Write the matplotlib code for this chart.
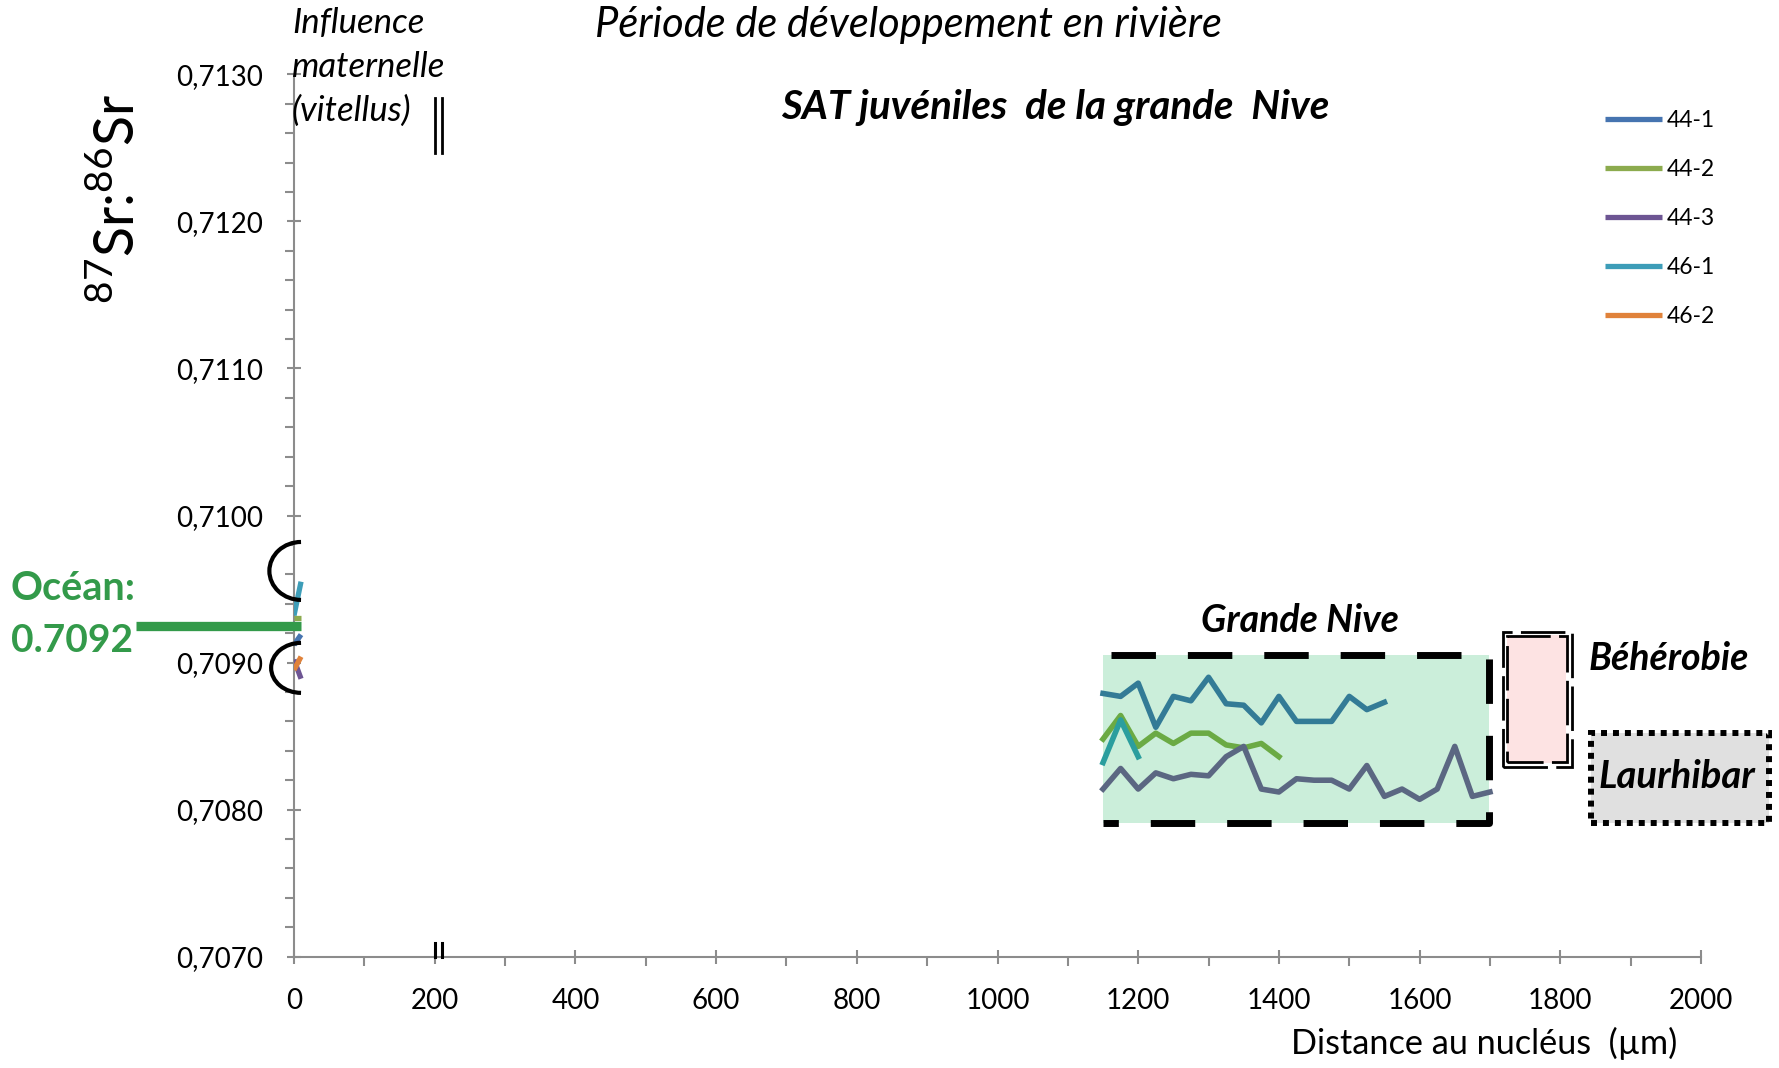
import matplotlib
matplotlib.use('Agg')
import matplotlib.pyplot as plt
from matplotlib.patches import Rectangle, Arc
from matplotlib.ticker import MultipleLocator, FuncFormatter

W, H, DPI = 1779, 1068, 100
plt.rcParams['font.family'] = ['Lato', 'DejaVu Sans']
plt.rcParams['mathtext.fontset'] = 'custom'
plt.rcParams['mathtext.rm'] = 'Lato'

# ---------------- data ----------------
series_names = ['44-1', '44-2', '44-3', '46-1', '46-2']
series_colors = ['#4674B0', '#8CAB4E', '#6D5593', '#3D9DB8', '#E0823A']

# visible start of every series (near the nucleus)
start_x = [0, 10]
start_44_1 = [0.70912, 0.70919]
start_44_2 = [0.70930, 0.70930]
start_44_3 = [0.70902, 0.70889]
start_46_1 = [0.70932, 0.70955]
start_46_2 = [0.70895, 0.70904]

# visible portions in the "Grande Nive" box
box_x_44_1 = [1150, 1175, 1200, 1225, 1250, 1275, 1300, 1325, 1350, 1375,
              1400, 1425, 1450, 1475, 1500, 1525, 1550]
box_44_1 = [0.70879, 0.70877, 0.70886, 0.70856, 0.70877, 0.70874, 0.70890,
            0.70872, 0.70871, 0.70859, 0.70877, 0.70860, 0.70860, 0.70860,
            0.70877, 0.70868, 0.70873]
box_x_44_2 = [1150, 1175, 1200, 1225, 1250, 1275, 1300, 1325, 1350, 1375, 1400]
box_44_2 = [0.70848, 0.70864, 0.70843, 0.70852, 0.70845, 0.70852, 0.70852,
            0.70844, 0.70842, 0.70845, 0.70836]
box_x_44_3 = [1150, 1175, 1200, 1225, 1250, 1275, 1300, 1325, 1350, 1375,
              1400, 1425, 1450, 1475, 1500, 1525, 1550, 1575, 1600, 1625,
              1650, 1675, 1700]
box_44_3 = [0.70814, 0.70828, 0.70814, 0.70825, 0.70821, 0.70824, 0.70823,
            0.70836, 0.70843, 0.70814, 0.70812, 0.70821, 0.70820, 0.70820,
            0.70814, 0.70830, 0.70809, 0.70814, 0.70807, 0.70814, 0.70843,
            0.70809, 0.70812]
box_x_46_1 = [1150, 1175, 1200]
box_46_1 = [0.70832, 0.70861, 0.70836]

ocean_value = 0.70925
x_ticks_max = 2000

# ---------------- figure ----------------
fig = plt.figure(figsize=(W / DPI, H / DPI), dpi=DPI)
x0p, x1p, y0p, y1p = 294, 1701, 74.3, 956.7
ax = fig.add_axes([x0p / W, 1 - y1p / H, (x1p - x0p) / W, (y1p - y0p) / H])
ax.set_xlim(0, x_ticks_max)
ax.set_ylim(0.7070, 0.7130)

for s in ['top', 'right']:
    ax.spines[s].set_visible(False)
for s in ['left', 'bottom']:
    ax.spines[s].set_color('#8C8C8C')
    ax.spines[s].set_linewidth(1.5)

ax.xaxis.set_major_locator(MultipleLocator(200))
ax.xaxis.set_minor_locator(MultipleLocator(100))
ax.yaxis.set_major_locator(MultipleLocator(0.001))
ax.yaxis.set_minor_locator(MultipleLocator(0.0002))
ax.yaxis.set_major_formatter(FuncFormatter(lambda v, p: f"{v:.4f}".replace('.', ',')))
ax.tick_params(which='major', direction='inout', length=10.5, width=1.5,
               color='#8C8C8C', labelsize=20, pad=17)
ax.tick_params(which='minor', direction='out', length=6.5, width=1.5,
               color='#8C8C8C')

# Grande Nive box
ax.add_patch(Rectangle((1150, 0.70791), 548, 0.70905 - 0.70791,
                       facecolor='#CBEEDA', edgecolor='none', zorder=1))
dash = (0, (6.4, 4.6))
ax.plot([1162, 1698, 1698, 1150], [0.70905, 0.70905, 0.70791, 0.70791],
        color='black', lw=5, linestyle=dash, zorder=5, clip_on=False)

# Béhérobie box
ax.add_patch(Rectangle((1724, 0.708318), 84, 0.709188 - 0.708318,
                       facecolor='#FDE3E3', edgecolor='none', zorder=1, clip_on=False))
ax.add_patch(Rectangle((1718, 0.708293), 98, 0.709211 - 0.708293, fill=False,
                       edgecolor='black', lw=2.0, linestyle=(0, (16, 3)),
                       zorder=5, clip_on=False))
ax.add_patch(Rectangle((1724, 0.708322), 86, 0.709182 - 0.708322, fill=False,
                       edgecolor='black', lw=2.0, linestyle=(3, (16, 3)),
                       zorder=5, clip_on=False))

# Laurhibar box
ax.add_patch(Rectangle((1843, 0.70791), 254, 0.708522 - 0.70791,
                       facecolor='#E0E0E0', edgecolor='black', lw=4.3,
                       linestyle=(0, (1, 1)), zorder=5, clip_on=False))

# series
box_colors = ['#337B96', '#6BAA44', '#5B6782', '#2B9E9E']
ax.plot(box_x_44_1, box_44_1, color=box_colors[0], lw=4.0, zorder=3)
ax.plot(box_x_44_2, box_44_2, color=box_colors[1], lw=4.0, zorder=3)
ax.plot(box_x_44_3, box_44_3, color=box_colors[2], lw=4.0, zorder=3)
ax.plot(box_x_46_1, box_46_1, color=box_colors[3], lw=4.0, zorder=3)

starts = [start_44_1, start_44_2, start_44_3, start_46_1, start_46_2]
handles = []
for name, col, ys in zip(series_names, series_colors, starts):
    ln, = ax.plot(start_x, ys, color=col, lw=3.8, label=name, zorder=3,
                  solid_capstyle='butt')
    handles.append(ln)

# ocean line
ax.plot([-224, 10], [ocean_value, ocean_value], color='#339A4A', lw=6.7,
        zorder=6, clip_on=False, solid_capstyle='butt')

# arcs
ax.add_patch(Arc((10, 0.709623), 90, 0.000394, theta1=90, theta2=270,
                 color='black', lw=3.0, zorder=7, clip_on=False))
ax.add_patch(Arc((10, 0.708964), 85, 0.00034, theta1=90, theta2=270,
                 color='black', lw=3.0, zorder=7, clip_on=False))

# break markers
for xx in (200, 211):
    ax.plot([xx, xx], [0.712465, 0.712839], color='black', lw=2, zorder=7, clip_on=False)
    ax.plot([xx, xx], [0.7070, 0.707096], color='black', lw=2.2, zorder=7, clip_on=False)

# legend
fig.legend(handles=handles, loc='upper left', bbox_to_anchor=(1605 / W, 1 - 110 / H),
           frameon=False, fontsize=16.5, handlelength=2.49, handletextpad=0.2,
           labelspacing=1.22, borderpad=0, borderaxespad=0)


def ft(x, y, s, **kw):
    fig.text(x / W, 1 - y / H, s, **kw)


ft(292, 7, "Influence\nmaternelle\n(vitellus)", fontsize=25, style='italic',
   ha='left', va='top', linespacing=1.45)
ft(908, 25, "Période de développement en rivière", fontsize=30, style='italic',
   ha='center', va='center')
ft(1055, 108, "SAT juvéniles  de la grande  Nive", fontsize=29, style='italic',
   weight='bold', ha='center', va='center')
ft(1300, 620, "Grande Nive", fontsize=27, style='italic', weight='bold',
   ha='center', va='center')
ft(1589, 658, "Béhérobie", fontsize=27, style='italic', weight='bold',
   ha='left', va='center')
ft(1677, 777, "Laurhibar", fontsize=27.5, style='italic', weight='bold',
   ha='center', va='center')
ft(11, 589, "Océan:", fontsize=28.5, weight='bold', color='#339A4A',
   ha='left', va='center')
ft(11, 640, "0.7092", fontsize=28, weight='bold', color='#339A4A',
   ha='left', va='center')
ft(117, 199, r'$^{87}$Sr:$^{86}$Sr', fontsize=40, rotation=90,
   ha='center', va='center')
ft(1677, 1043, "Distance au nucléus  (µm)", fontsize=24.7, ha='right', va='center')

fig.savefig('out.png', dpi=DPI)
